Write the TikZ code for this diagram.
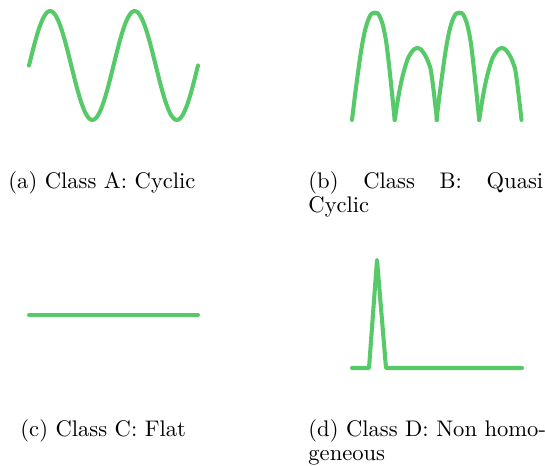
\documentclass[tikz,border=0pt]{standalone}
\usepackage{xcolor}
\usepackage{tikz}
\usetikzlibrary{positioning}
\definecolor{sigGreen}{RGB}{86,201,104}

\begin{document}
\begin{tikzpicture}[
  x=0.443pt, y=-0.443pt,
  curve/.style={draw=sigGreen, line width=1.8pt, line cap=round, line join=round},
  captxt/.style={anchor=base west, inner sep=0pt, font=\normalsize},
  captwide/.style={captxt, text width=108pt, align=left},
]
\useasboundingbox (0,0) rectangle (545,466);

% (a) cyclic: two full periods of a sine
\draw[curve] plot[domain=29:198, samples=90, smooth]
  (\x, {65.5-54.5*sin(4.2604*(\x-29))});

% (b) quasi cyclic: tall arch + short arch, repeated
\foreach \dx in {0,84.5}{
  \draw[curve, xshift=\dx*0.443pt] plot[smooth, tension=0.7] coordinates
    {(352,120) (357,80) (363,40) (369,18) (374.7,12.7) (380,17) (385,35) (389,65) (394.7,120)};
  \draw[curve, xshift=\dx*0.443pt] plot[smooth, tension=0.7] coordinates
    {(394.7,120) (400,88) (406,64) (411,53) (417,48) (423,52) (429,64) (432,78) (437,120)};
}

% (c) flat
\coordinate (c0) at (29,315);
\coordinate (c1) at (198,315);
\draw[curve] (c0) -- (c1);

% (d) non homogeneous: one spike on a flat line
\coordinate (d0) at (352,368);
\coordinate (d1) at (369,368);
\coordinate (d2) at (377,260);
\coordinate (d3) at (386,368);
\coordinate (d4) at (522,368);
\draw[curve] (d0) -- (d1) -- (d2) -- (d3) -- (d4);

% captions
\node[captxt] (capA) at (8,189) {(a) Class A: Cyclic};
\node[captwide] (capB) at (308,189)
  {\hbox to 104pt{(b)\hfill Class\hfill B:\hfill Quasi}\\[-1.5pt]Cyclic};
\node[captxt] (capC) at (20,437) {(c) Class C: Flat};
\node[captwide] (capD) at (308,437) {(d) Class D: Non homo-\\[-1.5pt]geneous};
\end{tikzpicture}
\end{document}
